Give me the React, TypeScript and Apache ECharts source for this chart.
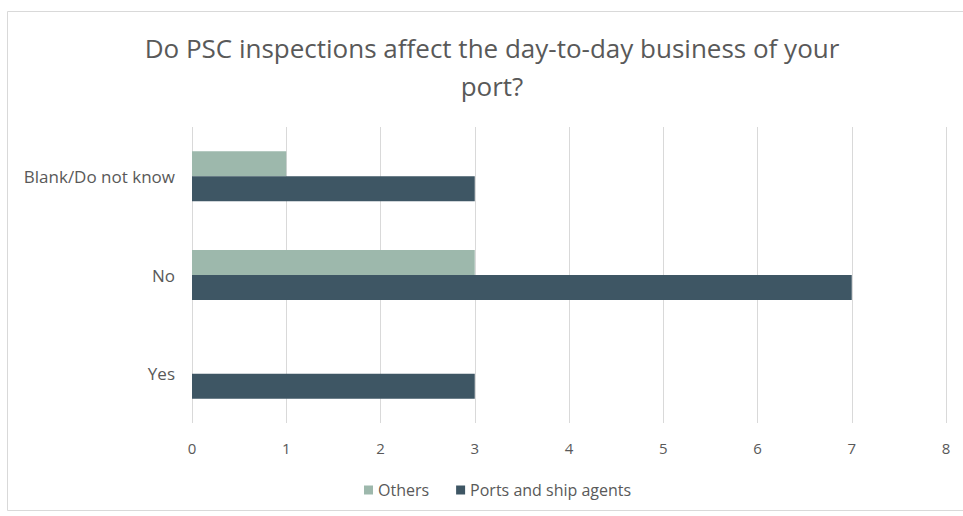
import React, { useEffect, useRef } from "react";
import * as echarts from "echarts";

const categories = ["Yes", "No", "Blank/Do not know"];
const others = [0, 3, 1];
const portsAndShipAgents = [3, 7, 3];
const seriesNames = ["Others", "Ports and ship agents"];
const titleText = "Do PSC inspections affect the day-to-day business of your\nport?";

export default function App() {
  const ref = useRef<HTMLDivElement>(null);
  useEffect(() => {
    document.body.style.margin = "0";
    const chart = echarts.init(ref.current!, null, { renderer: "svg" });
    const font = "'Open Sans', sans-serif";
    chart.setOption({
      animation: false,
      backgroundColor: "#ffffff",
      title: {
        text: titleText,
        left: 487,
        top: 24,
        textAlign: "center",
        textStyle: {
          fontFamily: font,
          fontSize: 26,
          fontWeight: "normal",
          color: "#595959",
          lineHeight: 38,
        },
      },
      graphic: [
        {
          type: "rect",
          shape: { x: 7.5, y: 11.5, width: 980, height: 499 },
          style: { fill: "none", stroke: "#d9d9d9", lineWidth: 1 },
          silent: true,
        },
      ],
      legend: {
        data: seriesNames,
        left: 359,
        top: 477,
        icon: "rect",
        itemWidth: 9,
        itemHeight: 9,
        itemGap: 27,
        textStyle: { fontFamily: font, fontSize: 16, color: "#595959" },
      },
      grid: { left: 192, right: 17, top: 127, bottom: 93 },
      xAxis: {
        type: "value",
        min: 0,
        max: 8,
        interval: 1,
        axisLine: { show: false },
        axisTick: { show: false },
        axisLabel: { fontFamily: font, fontSize: 15, color: "#595959", margin: 17 },
        splitLine: { show: true, lineStyle: { color: "#d9d9d9", width: 1 } },
      },
      yAxis: {
        type: "category",
        data: categories,
        axisLine: { show: false },
        axisTick: { show: false },
        axisLabel: { fontFamily: font, fontSize: 17, color: "#595959", margin: 17 },
      },
      series: [
        {
          name: seriesNames[0],
          type: "bar",
          data: others,
          barWidth: 25,
          barGap: "0%",
          itemStyle: { color: "#9db8ac" },
        },
        {
          name: seriesNames[1],
          type: "bar",
          data: portsAndShipAgents,
          barWidth: 25,
          barGap: "0%",
          itemStyle: { color: "#3e5664" },
        },
      ],
    });
    return () => chart.dispose();
  }, []);
  return <div ref={ref} style={{ width: 963, height: 516 }} />;
}
